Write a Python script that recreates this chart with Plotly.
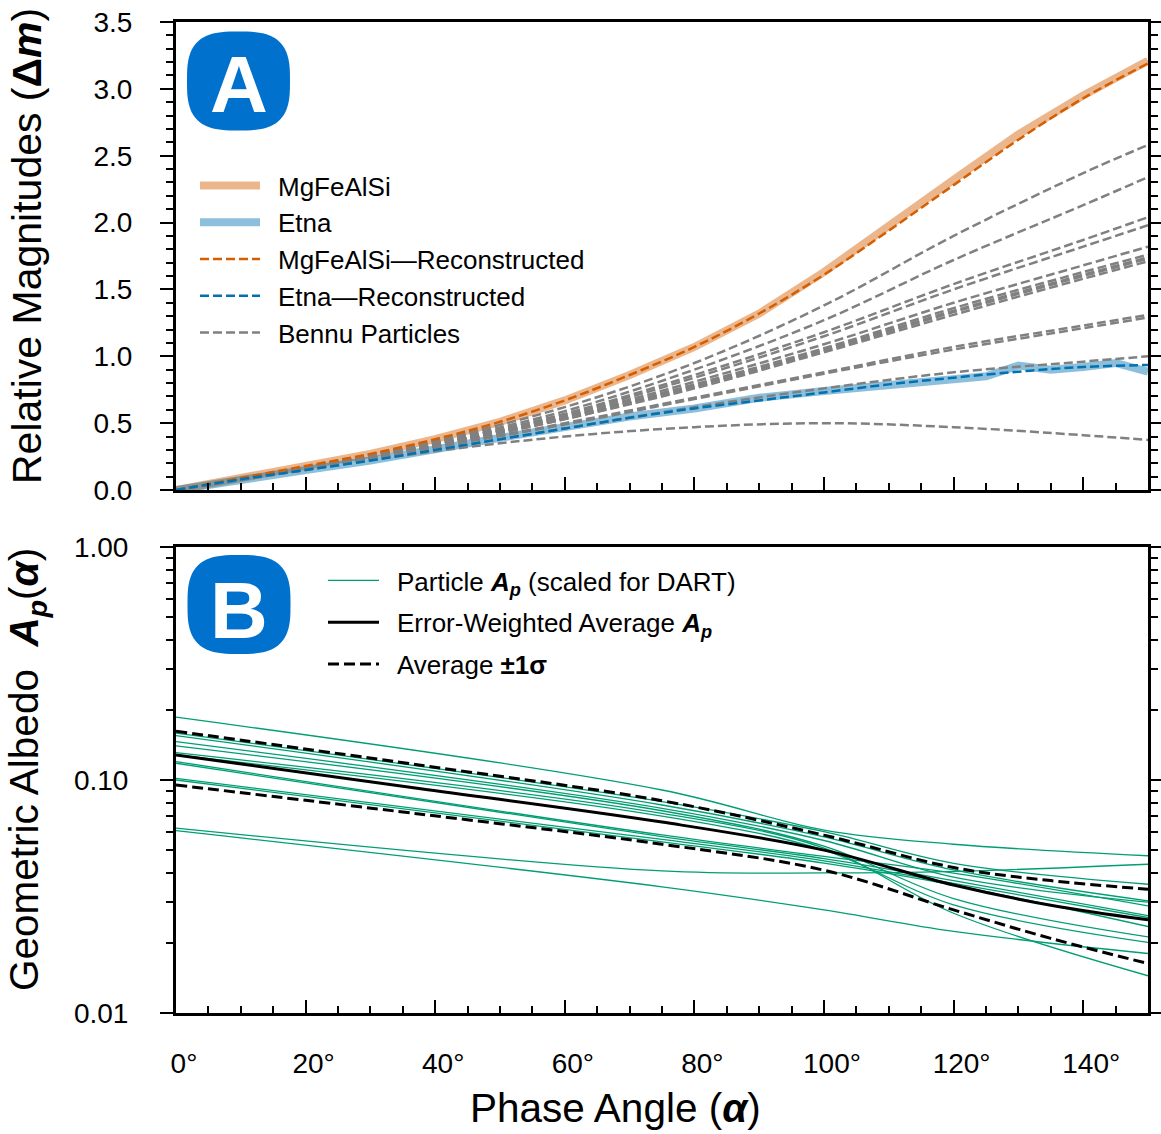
import numpy as np
import plotly.graph_objects as go

# ---------------- Panel A: relative magnitude vs phase angle ----------------
lab_angle = [0, 10, 20, 30, 40, 50, 60, 70, 80, 90, 100, 110, 120, 130, 140, 150]
mgfealsi_mag = [0, 0.09, 0.18, 0.27, 0.38, 0.51, 0.67, 0.86, 1.07, 1.32, 1.63, 1.98, 2.32, 2.66, 2.95, 3.21]
mgfealsi_rec = [0, 0.09, 0.18, 0.27, 0.38, 0.51, 0.67, 0.86, 1.07, 1.32, 1.61, 1.94, 2.28, 2.62, 2.93, 3.19]
etna_rec = [0, 0.08, 0.15, 0.22, 0.30, 0.38, 0.46, 0.54, 0.61, 0.67, 0.73, 0.79, 0.84, 0.885, 0.92, 0.935]

etna_angle = [0, 10, 20, 30, 40, 50, 60, 70, 80, 90, 100, 110, 120, 125, 130, 135, 140, 145, 150]
etna_mag = [0, 0.08, 0.15, 0.22, 0.31, 0.39, 0.47, 0.55, 0.61, 0.69, 0.74, 0.785, 0.82, 0.85, 0.93, 0.90, 0.92, 0.95, 0.885]

bennu_angle = [0, 20, 40, 60, 80, 100, 120, 140, 150]
bennu_01 = [0, 0.17, 0.37, 0.62, 0.95, 1.38, 1.90, 2.37, 2.58]
bennu_02 = [0, 0.17, 0.36, 0.59, 0.90, 1.27, 1.72, 2.13, 2.34]
bennu_03 = [0, 0.17, 0.35, 0.57, 0.86, 1.18, 1.54, 1.87, 2.04]
bennu_04 = [0, 0.17, 0.35, 0.56, 0.84, 1.15, 1.50, 1.82, 1.98]
bennu_05 = [0, 0.16, 0.34, 0.55, 0.81, 1.09, 1.40, 1.68, 1.82]
bennu_06 = [0, 0.16, 0.34, 0.54, 0.79, 1.06, 1.36, 1.63, 1.76]
bennu_07 = [0, 0.16, 0.34, 0.54, 0.78, 1.05, 1.34, 1.61, 1.74]
bennu_08 = [0, 0.16, 0.33, 0.53, 0.77, 1.04, 1.33, 1.60, 1.73]
bennu_09 = [0, 0.16, 0.33, 0.53, 0.76, 1.03, 1.31, 1.58, 1.71]
bennu_10 = [0, 0.16, 0.32, 0.50, 0.69, 0.88, 1.07, 1.23, 1.31]
bennu_11 = [0, 0.16, 0.32, 0.49, 0.68, 0.87, 1.05, 1.21, 1.29]
bennu_12 = [0, 0.15, 0.30, 0.46, 0.62, 0.76, 0.88, 0.96, 1.00]
bennu_13 = [0, 0.15, 0.29, 0.40, 0.47, 0.50, 0.47, 0.41, 0.374]

# ---------------- Panel B: geometric albedo vs phase angle ----------------
particle_angle = [0, 75, 100, 120, 150]
particle_01 = [0.186, 0.0906, 0.061, 0.053, 0.0473]
particle_02 = [0.159, 0.0807, 0.060, 0.0439, 0.0357]
particle_03 = [0.155, 0.0781, 0.057, 0.0411, 0.0303]
particle_04 = [0.146, 0.0756, 0.055, 0.0383, 0.0299]
particle_05 = [0.140, 0.0738, 0.052, 0.0310, 0.0212]
particle_06 = [0.131, 0.0719, 0.051, 0.0268, 0.01445]
particle_07 = [0.128, 0.0700, 0.050, 0.0291, 0.0201]
particle_08 = [0.120, 0.0581, 0.047, 0.0398, 0.0288]
particle_09 = [0.118, 0.0571, 0.046, 0.0370, 0.0262]
particle_10 = [0.1016, 0.0556, 0.045, 0.0360, 0.0257]
particle_11 = [0.100, 0.0543, 0.044, 0.0354, 0.0235]
particle_12 = [0.0621, 0.0407, 0.0399, 0.0405, 0.0435]
particle_13 = [0.0606, 0.0348, 0.0277, 0.0224, 0.0180]

avg_angle = [0, 37.5, 75, 100, 120, 135, 150]
avg_albedo = [0.128, 0.092, 0.066, 0.050, 0.0354, 0.0290, 0.0251]
avg_upper = [0.162, 0.116, 0.0815, 0.058, 0.0421, 0.0370, 0.0340]
avg_lower = [0.0952, 0.0715, 0.0530, 0.041, 0.0277, 0.0209, 0.0163]

major_angles = [0, 20, 40, 60, 80, 100, 120, 140]
major_angle_labels = ["0°", "20°", "40°", "60°", "80°", "100°", "120°", "140°"]
minor_angles = [a for a in range(5, 151, 5) if a % 20 != 0]

mag_ticks = [0.0, 0.5, 1.0, 1.5, 2.0, 2.5, 3.0, 3.5]
mag_minor = [round(v * 0.1, 1) for v in range(1, 35) if v % 5 != 0]
alb_ticks = [0.01, 0.1, 1.0]
alb_labels = ["0.01", "0.10", "1.00"]
alb_minor = [m * d for d in (0.01, 0.1) for m in range(2, 10)]

# ---------------- figure geometry (pixels) ----------------
W, H = 1161, 1134
ML, MR, MT, MB = 176, 13, 22, 121
PW, PH = W - ML - MR, H - MT - MB
A_TOP, A_BOT = 22, 490
B_TOP, B_BOT = 547, 1013


def fx(px):
    return (px - ML) / PW


def fy(py):
    return (H - MB - py) / PH


FONT = "Liberation Sans"
ORANGE = "#D55E00"
BLUE = "#0072B2"
GRAY = "#808080"
GREEN = "#009E73"
BADGE = "#0072CE"
GAP = "\u2002"  # spacing between legend swatch and label

fig = go.Figure()

# measured lab curves (broad translucent bands)
fig.add_trace(go.Scatter(x=lab_angle, y=mgfealsi_mag, mode="lines", name=GAP + "MgFeAlSi",
                         line=dict(color="rgba(213,94,0,0.45)", width=8),
                         xaxis="x", yaxis="y", legend="legend", legendrank=1))
fig.add_trace(go.Scatter(x=etna_angle, y=etna_mag, mode="lines", name=GAP + "Etna",
                         line=dict(color="rgba(0,114,178,0.45)", width=8),
                         xaxis="x", yaxis="y", legend="legend", legendrank=2))

# Bennu particle phase curves
bennu_curves = (bennu_01, bennu_02, bennu_03, bennu_04, bennu_05, bennu_06, bennu_07,
                bennu_08, bennu_09, bennu_10, bennu_11, bennu_12, bennu_13)
for i, mags in enumerate(bennu_curves):
    fig.add_trace(go.Scatter(x=bennu_angle, y=mags, mode="lines", name=GAP + "Bennu Particles",
                             line=dict(color=GRAY, width=2.5, dash="9px,4px", shape="spline"),
                             showlegend=(i == 0), xaxis="x", yaxis="y",
                             legend="legend", legendrank=5))

# reconstructed lab curves
fig.add_trace(go.Scatter(x=lab_angle, y=mgfealsi_rec, mode="lines",
                         name=GAP + "MgFeAlSi\u2014Reconstructed",
                         line=dict(color=ORANGE, width=2.5, dash="9px,4px", shape="spline"),
                         xaxis="x", yaxis="y", legend="legend", legendrank=3))
fig.add_trace(go.Scatter(x=lab_angle, y=etna_rec, mode="lines", name=GAP + "Etna\u2014Reconstructed",
                         line=dict(color=BLUE, width=2.5, dash="9px,4px", shape="spline"),
                         xaxis="x", yaxis="y", legend="legend", legendrank=4))

# Panel B: individual particle albedo curves
particle_curves = (particle_01, particle_02, particle_03, particle_04, particle_05,
                   particle_06, particle_07, particle_08, particle_09, particle_10,
                   particle_11, particle_12, particle_13)
for i, alb in enumerate(particle_curves):
    fig.add_trace(go.Scatter(x=particle_angle, y=alb, mode="lines",
                             name=GAP + "Particle <b><i>A<sub>p</sub></i></b> (scaled for DART)",
                             line=dict(color=GREEN, width=1.3, shape="spline"),
                             showlegend=(i == 0), legendgroup="particles",
                             xaxis="x2", yaxis="y2", legend="legend2", legendrank=1))

fig.add_trace(go.Scatter(x=avg_angle, y=avg_albedo, mode="lines",
                         name=GAP + "Error-Weighted Average <b><i>A<sub>p</sub></i></b>",
                         line=dict(color="black", width=3, shape="spline"),
                         legendgroup="avg", xaxis="x2", yaxis="y2", legend="legend2", legendrank=2))
fig.add_trace(go.Scatter(x=avg_angle, y=avg_upper, mode="lines", name=GAP + "Average <b>\u00b11\u03c3</b>",
                         line=dict(color="black", width=3, dash="11px,5px", shape="spline"),
                         legendgroup="sigma", xaxis="x2", yaxis="y2", legend="legend2", legendrank=3))
fig.add_trace(go.Scatter(x=avg_angle, y=avg_lower, mode="lines", name=GAP + "Average <b>\u00b11\u03c3</b>",
                         line=dict(color="black", width=3, dash="11px,5px", shape="spline"),
                         legendgroup="sigma", showlegend=False,
                         xaxis="x2", yaxis="y2", legend="legend2", legendrank=3))

axis_common = dict(showline=True, linecolor="black", linewidth=3, showgrid=False,
                   zeroline=False, tickcolor="black", tickwidth=2.2, automargin=False,
                   tickfont=dict(family=FONT, size=28, color="black"))

xaxis_common = dict(axis_common, range=[0, 150], tickmode="array", tickvals=major_angles,
                    ticktext=major_angle_labels, ticks="inside", ticklen=13, mirror=True,
                    minor=dict(tickmode="array", tickvals=minor_angles, ticks="inside",
                               ticklen=7, tickwidth=1.8, tickcolor="black"))

fig.update_layout(
    template="none",
    width=W, height=H,
    margin=dict(l=ML, r=MR, t=MT, b=MB, pad=0),
    paper_bgcolor="white", plot_bgcolor="white",
    font=dict(family=FONT, color="black"),
    xaxis=dict(xaxis_common, domain=[0, 1], anchor="y", showticklabels=False),
    yaxis=dict(axis_common, domain=[fy(A_BOT), 1], anchor="x", range=[0, 3.5],
               tickmode="array", tickvals=mag_ticks, ticktext=[f"{v:.1f}" for v in mag_ticks],
               ticks="outside", ticklen=13, mirror="ticks", ticklabelstandoff=22,
               minor=dict(tickmode="array", tickvals=mag_minor, ticks="outside",
                          ticklen=7, tickwidth=1.8, tickcolor="black")),
    xaxis2=dict(xaxis_common, domain=[0, 1], anchor="y2", ticklabelstandoff=23,
                ticklabelshift=8),
    yaxis2=dict(axis_common, domain=[0, fy(B_TOP)], anchor="x2", type="log", range=[-2, 0],
                tickmode="array", tickvals=alb_ticks, ticktext=alb_labels,
                ticks="outside", ticklen=13, mirror="ticks", ticklabelstandoff=26,
                minor=dict(tickmode="array", tickvals=alb_minor, ticks="outside",
                           ticklen=7, tickwidth=1.8, tickcolor="black")),
    legend=dict(x=fx(195), y=fy(162), xanchor="left", yanchor="top",
                bgcolor="rgba(0,0,0,0)", borderwidth=0, itemwidth=60,
                font=dict(family=FONT, size=26, color="black"), traceorder="normal"),
    legend2=dict(x=fx(323), y=fy(557), xanchor="left", yanchor="top",
                 bgcolor="rgba(0,0,0,0)", borderwidth=0, itemwidth=51, tracegroupgap=5,
                 font=dict(family=FONT, size=26, color="black")),
    showlegend=True,
)


def badge_path(cx, cy, a, b, n=3.0, steps=96):
    pts = []
    for k in range(steps):
        t = 2 * np.pi * k / steps
        c, s = np.cos(t), np.sin(t)
        px = cx + a * np.sign(c) * abs(c) ** (2 / n)
        py = cy + b * np.sign(s) * abs(s) ** (2 / n)
        pts.append(f"{fx(px):.5f},{fy(py):.5f}")
    return "M" + " L".join(pts) + " Z"


for cx, cy, letter, ty in ((238.5, 81, "A", 85), (239, 604.5, "B", 610)):
    fig.add_shape(type="path", path=badge_path(cx, cy, 51.5, 49.5), xref="paper", yref="paper",
                  fillcolor=BADGE, line=dict(width=0), layer="above")
    fig.add_annotation(x=fx(cx), y=fy(ty), xref="paper", yref="paper", text=f"<b>{letter}</b>",
                       showarrow=False, xanchor="center", yanchor="middle",
                       font=dict(family=FONT, size=80, color="white"))

# axis titles
fig.add_annotation(x=fx(27), y=fy(246), xref="paper", yref="paper", textangle=-90,
                   text="Relative Magnitudes (<b>\u0394<i>m</i></b>)", showarrow=False,
                   xanchor="center", yanchor="middle", font=dict(family=FONT, size=41, color="black"))
fig.add_annotation(x=fx(27), y=fy(770), xref="paper", yref="paper", textangle=-90,
                   text="Geometric Albedo\u00a0 <b><i>A<sub>p</sub></i></b>(<b><i>\u03b1</i></b>)",
                   showarrow=False, xanchor="center", yanchor="middle",
                   font=dict(family=FONT, size=40.5, color="black"))
fig.add_annotation(x=fx(615), y=fy(1108), xref="paper", yref="paper",
                   text="Phase Angle (<b><i>\u03b1</i></b>)", showarrow=False,
                   xanchor="center", yanchor="middle", font=dict(family=FONT, size=40.5, color="black"))

fig.write_html("out.html")
